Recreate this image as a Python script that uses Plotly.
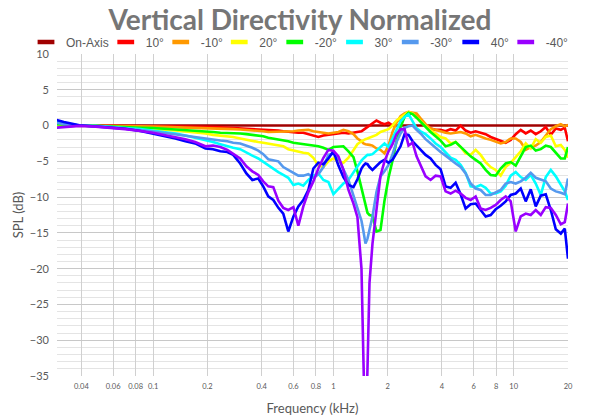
import math
import plotly.graph_objects as go

# ---------------- data ----------------
freq_khz = [0.029, 0.032, 0.039, 0.048, 0.058, 0.070, 0.085, 0.100,
            0.117, 0.133, 0.151, 0.171, 0.195, 0.215, 0.236, 0.258,
            0.278, 0.304, 0.329, 0.355, 0.383, 0.408, 0.435, 0.464,
            0.495, 0.527, 0.562, 0.600, 0.639, 0.681, 0.726, 0.774,
            0.825, 0.880, 0.938, 1.000, 1.066, 1.136, 1.212, 1.292,
            1.359, 1.431, 1.468, 1.506, 1.545, 1.585, 1.647, 1.733,
            1.824, 1.920, 2.021, 2.127, 2.239, 2.357, 2.481, 2.610,
            2.748, 2.892, 3.044, 3.245, 3.459, 3.687, 3.930, 4.189,
            4.467, 4.762, 5.076, 5.412, 5.769, 6.150, 6.556, 6.988,
            7.450, 7.943, 8.467, 9.026, 9.624, 10.26, 10.94, 11.66,
            12.43, 13.25, 14.13, 15.06, 16.06, 17.12, 18.25, 19.20, 20.0]

on_axis_khz = [0.029, 20.0]
on_axis_db = [0.0, 0.0]

db_10 = [-0.2, -0.1, 0.0, 0.0, -0.05, -0.05, -0.05, -0.1,
         -0.1, -0.1, -0.15, -0.15, -0.2, -0.2, -0.25, -0.3,
         -0.3, -0.35, -0.4, -0.45, -0.5, -0.55, -0.6, -0.6,
         -0.7, -0.8, -0.9, -0.9, -1.0, -1.0, -1.2, -1.4,
         -1.6, -1.4, -1.3, -1.2, -1.1, -1.0, -1.1, -1.0,
         -0.9, -0.8, -0.6, -0.4, -0.2, 0.0, 0.3, 0.7,
         0.4, 0.2, 0.4, 0.0, 0.6, 1.0, 1.4, 1.6,
         1.7, 1.3, 0.6, 0.0, -0.4, -0.6, -0.6, -0.8,
         -0.5, -0.7, 0.0, -0.7, -1.0, -0.8, -1.0, -1.2,
         -1.6, -1.9, -2.2, -2.4, -2.0, -1.2, -0.6, -1.1,
         -0.7, -1.2, -0.8, -0.2, -1.3, -0.4, -0.6, -0.3, -2.2]

db_m10 = [-0.1, 0.0, 0.0, 0.0, -0.05, -0.05, -0.1, -0.15,
          -0.2, -0.2, -0.25, -0.25, -0.3, -0.35, -0.4, -0.45,
          -0.5, -0.55, -0.6, -0.7, -0.75, -0.8, -0.9, -0.9,
          -0.9, -0.9, -0.9, -0.8, -0.7, -0.6, -0.6, -0.8,
          -0.9, -1.0, -1.1, -1.0, -0.9, -0.6, -0.8, -1.2,
          -1.8, -2.2, -2.5, -2.6, -2.6, -2.7, -2.8, -3.2,
          -3.4, -3.9, -2.8, -0.9, 0.4, 1.3, 1.7, 1.9,
          1.8, 1.7, 1.0, 0.2, -0.4, -0.6, -0.9, -1.0,
          -1.1, -1.0, -0.9, -1.1, -1.5, -1.3, -1.6, -1.8,
          -2.0, -2.3, -2.5, -2.3, -1.8, -1.8, -2.3, -3.4,
          -3.0, -2.8, -2.3, -1.4, -0.5, -0.1, 0.2, -0.1, 0.1]

db_20 = [0.0, 0.0, -0.05, -0.1, -0.15, -0.25, -0.35, -0.45,
         -0.6, -0.7, -0.8, -0.95, -1.1, -1.3, -1.4, -1.5,
         -1.6, -1.8, -2.0, -2.1, -2.3, -2.4, -2.5, -2.6,
         -2.7, -2.9, -3.3, -3.5, -3.6, -3.8, -3.9, -4.5,
         -5.6, -5.8, -5.0, -4.6, -5.0, -5.2, -4.5, -3.4,
         -2.6, -2.2, -2.0, -1.9, -1.8, -1.7, -1.6, -1.3,
         -0.9, -0.7, -0.5, 0.0, 0.7, 1.1, 1.5, 1.9,
         1.7, 1.2, 0.6, -0.1, -0.7, -1.1, -1.6, -1.8,
         -2.5, -2.3, -3.0, -3.9, -4.1, -3.4, -4.1, -5.1,
         -5.8, -6.2, -7.0, -5.8, -5.2, -4.4, -3.6, -2.5,
         -3.2, -1.9, -2.4, -1.6, -1.4, -2.9, -2.7, -3.4, -4.5]

db_m20 = [0.2, 0.1, 0.0, -0.05, -0.1, -0.2, -0.3, -0.35,
          -0.45, -0.5, -0.6, -0.7, -0.8, -0.9, -1.0, -1.0,
          -1.1, -1.1, -1.2, -1.3, -1.4, -1.5, -1.7, -1.8,
          -1.9, -2.0, -2.2, -2.4, -2.5, -2.6, -2.6, -2.8,
          -2.9, -3.1, -3.4, -3.0, -3.0, -2.9, -3.6, -4.4,
          -6.4, -8.7, -10.2, -11.3, -12.2, -12.5, -12.6, -14.8,
          -14.6, -10.5, -7.3, -4.9, -2.2, -0.2, 1.2, 1.8,
          1.6, 1.1, 0.5, -0.1, -0.9, -1.5, -2.1, -2.9,
          -2.7, -2.3, -3.0, -3.6, -4.3, -4.8, -5.3, -6.2,
          -6.9, -7.0, -6.0, -5.3, -5.1, -5.6, -4.2, -3.0,
          -2.8, -3.5, -3.3, -2.8, -3.0, -3.8, -4.6, -4.6, -3.0]

db_30 = [0.5, 0.3, 0.0, -0.05, -0.15, -0.35, -0.5, -0.7,
         -0.9, -1.1, -1.4, -1.7, -2.1, -2.3, -2.6, -2.9,
         -3.1, -3.3, -3.8, -4.2, -4.6, -5.1, -5.6, -6.0,
         -6.5, -6.9, -7.3, -8.3, -8.1, -8.4, -7.6, -7.0,
         -6.7, -7.6, -7.9, -9.6, -8.8, -8.1, -7.6, -6.5,
         -5.7, -4.9, -4.6, -4.3, -4.1, -4.1, -4.0, -3.5,
         -3.0, -2.5, -3.0, -1.9, -0.6, 0.6, 1.2, 1.6,
         0.6, -0.4, -0.8, -1.2, -1.8, -2.5, -3.0, -3.7,
         -4.5, -4.8, -5.5, -6.6, -8.5, -8.6, -8.3, -8.7,
         -9.5, -9.5, -9.2, -8.4, -7.0, -6.5, -7.2, -7.6,
         -6.9, -8.1, -9.7, -7.2, -6.2, -7.1, -8.3, -9.2, -10.4]

db_m30 = [0.4, 0.2, 0.0, -0.1, -0.2, -0.4, -0.6, -0.85,
          -1.05, -1.25, -1.5, -1.7, -1.9, -2.0, -2.1, -2.2,
          -2.4, -2.5, -2.8, -3.1, -3.5, -4.0, -4.7, -4.8,
          -5.0, -5.8, -6.2, -6.6, -7.0, -7.0, -6.8, -7.3,
          -6.8, -5.8, -4.1, -3.9, -4.6, -6.1, -7.6, -9.8,
          -11.4, -13.3, -14.8, -16.5, -15.8, -14.5, -12.7, -9.3,
          -7.1, -6.4, -5.5, -4.0, -2.3, -1.1, -0.3, -0.1,
          0.0, -0.6, -1.1, -1.9, -2.5, -3.2, -3.7, -4.2,
          -4.8, -5.3, -5.8, -6.7, -8.1, -8.8, -9.0, -9.7,
          -9.7, -9.4, -9.0, -8.1, -7.9, -8.1, -7.8, -7.3,
          -6.6, -7.3, -7.5, -7.8, -8.8, -9.2, -9.4, -9.6, -7.4]

db_40 = [0.8, 0.5, 0.05, -0.1, -0.25, -0.45, -0.75, -1.1,
         -1.5, -1.8, -2.2, -2.5, -3.2, -3.3, -3.6, -3.7,
         -4.1, -5.3, -6.7, -7.6, -7.4, -8.5, -9.9, -10.4,
         -11.5, -12.3, -14.8, -12.7, -11.3, -10.4, -9.0, -6.0,
         -5.2, -5.4, -4.6, -3.6, -5.6, -7.2, -8.3, -8.6,
         -7.5, -6.0, -5.6, -5.3, -5.4, -5.8, -6.2, -5.6,
         -5.1, -4.8, -5.2, -4.8, -3.9, -2.9, -1.2, -1.3,
         -2.2, -2.8, -3.4, -4.1, -4.6, -5.5, -6.1, -8.5,
         -8.7, -8.0, -9.6, -11.6, -11.0, -10.9, -11.8, -12.7,
         -12.5, -11.7, -11.2, -10.6, -9.7, -9.5, -8.8, -10.6,
         -8.9, -11.3, -9.8, -9.6, -11.8, -14.5, -15.1, -14.4, -18.6]

db_m40 = [-0.3, -0.2, -0.05, -0.15, -0.3, -0.5, -0.75, -1.0,
          -1.35, -1.6, -1.9, -2.3, -2.9, -2.8, -3.0, -3.4,
          -3.9, -4.6, -5.7, -6.4, -6.9, -7.8, -8.5, -8.6,
          -10.5, -11.5, -11.8, -11.4, -14.0, -11.3, -9.3, -7.8,
          -6.0, -4.5, -3.4, -3.5, -4.3, -6.2, -9.0, -10.9,
          -12.8, -20.0, -33.0, -45.0, -34.0, -22.0, -16.5, -11.3,
          -7.0, -5.0, -3.6, -2.6, -1.2, -0.5, -0.5, -2.8,
          -2.4, -4.3, -5.6, -7.1, -7.6, -7.0, -7.1, -9.2,
          -9.5, -9.1, -9.5, -10.1, -10.4, -9.9, -11.6, -11.8,
          -11.5, -11.1, -10.4, -9.9, -10.6, -14.8, -12.7, -12.3,
          -12.5, -11.8, -12.5, -11.4, -11.5, -12.5, -13.8, -13.5, -10.9]

x_tick_vals = [0.04, 0.06, 0.08, 0.1, 0.2, 0.4, 0.6, 0.8, 1, 2, 4, 6, 8, 10, 20]
x_tick_text = ["0.04", "0.06", "0.08", "0.1", "0.2", "0.4", "0.6", "0.8",
               "1", "2", "4", "6", "8", "10", "20"]

series_names = ["On-Axis", "10°", "-10°", "20°", "-20°", "30°", "-30°", "40°", "-40°"]
series_colors = ["#a00000", "#ff0000", "#ff9900", "#ffff00", "#00ff00",
                 "#00ffff", "#5599ee", "#0000ff", "#9900ff"]
series_x = [on_axis_khz] + [freq_khz] * 8
series_y = [on_axis_db, db_10, db_m10, db_20, db_m20, db_30, db_m30, db_40, db_m40]

# legend entry spacing (px) to mimic the compact Excel legend
legend_entry_widths = [34.75, 10, 13.5, 10.5, 14.75, 10.75, 15.5, 10, 22]

# ---------------- figure ----------------
fig = go.Figure()

for name, color, xs, ys in zip(series_names, series_colors, series_x, series_y):
    fig.add_trace(go.Scatter(
        x=xs, y=ys, mode="lines", name=name, legendgroup=name,
        showlegend=False,
        line=dict(color=color, width=2.6),
        hovertemplate="%{x} kHz<br>%{y} dB<extra>" + name + "</extra>",
    ))

# legend-only entries with short thick bar symbols (Excel style)
for name, color, lw in zip(series_names, series_colors, legend_entry_widths):
    fig.add_trace(go.Scatter(
        x=[None], y=[None], mode="markers", name=name, legendgroup=name,
        showlegend=True, legendwidth=lw,
        marker=dict(symbol="line-ew", size=12, color=color,
                    line=dict(color=color, width=4.5)),
    ))

tick_font = dict(family="Lato, Noto Sans, sans-serif", color="#595959")

PLOT_L, PLOT_R, PLOT_T, PLOT_B = 57, 568, 54, 376
plot_w = PLOT_R - PLOT_L
plot_h = PLOT_B - PLOT_T

fig.update_layout(
    width=600, height=420,
    margin=dict(l=PLOT_L, r=600 - PLOT_R, t=PLOT_T, b=420 - PLOT_B,
                autoexpand=False),
    paper_bgcolor="white", plot_bgcolor="white",
    title=dict(
        text="Vertical Directivity Normalized",
        font=dict(family="Lato, Noto Sans, sans-serif", size=28,
                  color="#767676", weight=700),
        x=0.5, xref="container", xanchor="center",
        y=1 - 30 / 420, yref="container", yanchor="bottom",
    ),
    legend=dict(
        orientation="h", xref="paper", yref="paper",
        x=(26 - PLOT_L) / plot_w, xanchor="left",
        y=(PLOT_B - 42) / plot_h, yanchor="middle",
        font=dict(family="Liberation Sans, Arial, sans-serif", size=12,
                  color="#595959"),
        itemwidth=30, bgcolor="rgba(0,0,0,0)", borderwidth=0,
        traceorder="normal",
    ),
    xaxis=dict(
        type="log",
        range=[math.log10(0.0293), math.log10(20) + 1e-4],
        tickmode="array", tickvals=x_tick_vals, ticktext=x_tick_text,
        showgrid=True, gridcolor="#d0d0d0", gridwidth=1,
        zeroline=False, showline=False, ticks="",
        ticklabelstandoff=4,
        tickfont=dict(size=7.5, **tick_font),
        title=dict(text="Frequency (kHz)",
                   font=dict(size=13, **tick_font), standoff=14),
    ),
    yaxis=dict(
        range=[-35, 10], tick0=0, dtick=5,
        showgrid=True, gridcolor="#c8c8c8", gridwidth=1,
        minor=dict(dtick=1, showgrid=True, gridcolor="#e4e4e4", gridwidth=1),
        zeroline=False, showline=False, ticks="",
        ticklabelstandoff=7,
        tickfont=dict(size=11, **tick_font),
        title=dict(text="SPL (dB)", font=dict(size=13, **tick_font), standoff=3),
    ),
    showlegend=True,
)

# remove the browser's default 8px page margin so the figure sits at (0, 0)
fig.write_html("out.html", config={"displayModeBar": False},
               post_script="document.body.style.margin = '0px';")
